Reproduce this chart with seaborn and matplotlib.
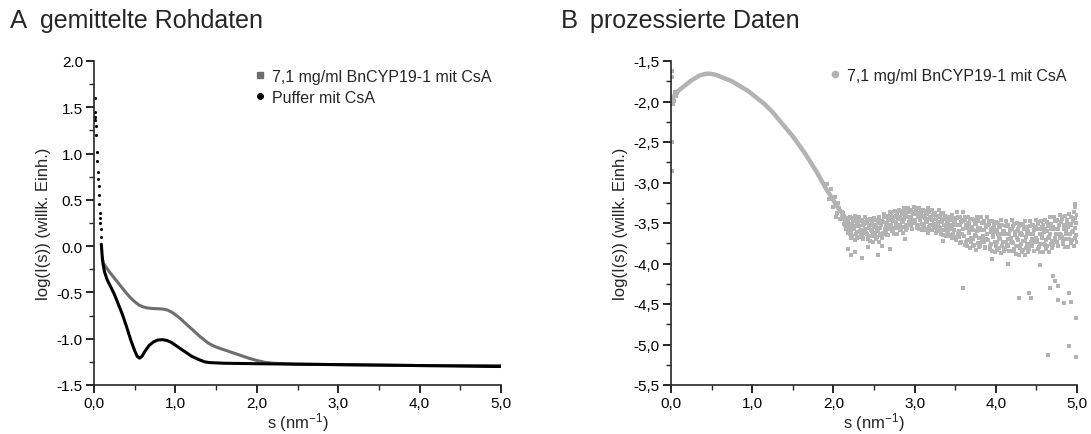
import numpy as np
import pandas as pd
import matplotlib
matplotlib.use("Agg")
import matplotlib.pyplot as plt
from matplotlib.lines import Line2D
from matplotlib.ticker import MultipleLocator, FuncFormatter
import seaborn as sns

# ---------------- data ----------------
# Panel A: sample curve (grey)
sample_s = [0.10, 0.12, 0.15, 0.20, 0.25, 0.30, 0.35, 0.40, 0.45, 0.50, 0.55, 0.60, 0.65,
            0.70, 0.75, 0.80, 0.85, 0.90, 0.95, 1.00, 1.05, 1.10, 1.15, 1.20, 1.25, 1.30,
            1.35, 1.40, 1.45, 1.50, 1.60, 1.70, 1.80, 1.90, 2.00, 2.10, 2.20, 2.50, 3.00,
            3.50, 4.00, 4.50, 5.00]
sample_y = [-0.14, -0.19, -0.23, -0.29, -0.345, -0.40, -0.455, -0.51, -0.56, -0.60, -0.635,
            -0.655, -0.667, -0.672, -0.675, -0.677, -0.68, -0.69, -0.71, -0.74, -0.775, -0.815,
            -0.855, -0.895, -0.935, -0.975, -1.01, -1.045, -1.07, -1.09, -1.12, -1.15, -1.18,
            -1.21, -1.235, -1.255, -1.265, -1.275, -1.28, -1.285, -1.29, -1.29, -1.29]

# Panel A: buffer curve (black)
buffer_s = [0.09, 0.10, 0.11, 0.13, 0.16, 0.20, 0.25, 0.30, 0.35, 0.40, 0.45, 0.50, 0.53,
            0.56, 0.59, 0.63, 0.68, 0.73, 0.78, 0.84, 0.90, 0.95, 1.00, 1.05, 1.10, 1.15,
            1.20, 1.25, 1.30, 1.36, 1.42, 1.60, 2.00, 3.00, 4.00, 4.90, 5.00]
buffer_y = [0.02, -0.10, -0.19, -0.28, -0.36, -0.43, -0.52, -0.63, -0.74, -0.87, -1.01, -1.13,
            -1.19, -1.21, -1.19, -1.13, -1.07, -1.035, -1.015, -1.01, -1.02, -1.04, -1.07, -1.10,
            -1.13, -1.16, -1.19, -1.21, -1.23, -1.25, -1.258, -1.265, -1.27, -1.28, -1.29,
            -1.30, -1.30]
# Panel A: separate buffer points at very small s
buffer_dots_s = [0.008, 0.012, 0.015, 0.018, 0.022, 0.028, 0.035, 0.040, 0.046, 0.052, 0.056,
                 0.060, 0.064, 0.068, 0.072, 0.076, 0.080, 0.084]
buffer_dots_y = [1.60, 1.45, 1.40, 1.36, 1.30, 1.20, 1.02, 0.92, 0.80, 0.72, 0.65,
                 0.55, 0.45, 0.36, 0.30, 0.25, 0.18, 0.10]

# Panel B: smooth part of processed curve
proc_s = [0.02, 0.05, 0.10, 0.15, 0.20, 0.25, 0.30, 0.35, 0.40, 0.45, 0.50, 0.55, 0.60, 0.65,
          0.70, 0.75, 0.80, 0.85, 0.90, 0.95, 1.00, 1.05, 1.10, 1.15, 1.20, 1.25, 1.30, 1.35,
          1.40, 1.45, 1.50, 1.55, 1.60, 1.65, 1.70, 1.75, 1.80, 1.85, 1.90, 1.95, 2.00, 2.05,
          2.10, 2.15]
proc_y = [-1.97, -1.91, -1.86, -1.82, -1.78, -1.74, -1.71, -1.68, -1.665, -1.655, -1.66, -1.67,
          -1.69, -1.71, -1.73, -1.75, -1.78, -1.81, -1.84, -1.87, -1.91, -1.95, -1.99, -2.03,
          -2.08, -2.13, -2.19, -2.25, -2.31, -2.37, -2.43, -2.50, -2.57, -2.64, -2.72, -2.80,
          -2.88, -2.97, -3.06, -3.14, -3.22, -3.30, -3.37, -3.44]

# Panel B: noisy part, first set at s = 2.100 ... 5.000 (step 0.01)
noise_y = [
    -3.36, -3.45, -3.38, -3.51, -3.47, -3.57, -3.48, -3.53, -3.48, -3.58,
    -3.64, -3.51, -3.68, -3.44, -3.58, -3.48, -3.71, -3.54, -3.46, -3.61,
    -3.51, -3.67, -3.42, -3.60, -3.46, -3.64, -3.53, -3.68, -3.49, -3.57,
    -3.50, -3.63, -3.46, -3.68, -3.56, -3.72, -3.52, -3.60, -3.48, -3.65,
    -3.66, -3.53, -3.70, -3.46, -3.60, -3.50, -3.73, -3.56, -3.48, -3.63,
    -3.48, -3.64, -3.39, -3.57, -3.43, -3.61, -3.50, -3.65, -3.46, -3.54,
    -3.41, -3.54, -3.37, -3.59, -3.47, -3.63, -3.43, -3.51, -3.39, -3.56,
    -3.55, -3.42, -3.59, -3.35, -3.49, -3.39, -3.62, -3.45, -3.37, -3.52,
    -3.40, -3.56, -3.31, -3.49, -3.35, -3.53, -3.42, -3.57, -3.38, -3.46,
    -3.36, -3.49, -3.32, -3.54, -3.42, -3.58, -3.38, -3.46, -3.34, -3.51,
    -3.55, -3.42, -3.59, -3.35, -3.49, -3.39, -3.62, -3.45, -3.37, -3.52,
    -3.43, -3.59, -3.34, -3.52, -3.38, -3.56, -3.45, -3.60, -3.41, -3.49,
    -3.43, -3.56, -3.39, -3.61, -3.49, -3.65, -3.45, -3.53, -3.41, -3.58,
    -3.62, -3.49, -3.66, -3.42, -3.56, -3.46, -3.69, -3.52, -3.44, -3.59,
    -3.49, -3.71, -3.36, -3.62, -3.42, -3.67, -3.52, -3.73, -3.46, -3.57,
    -3.48, -3.66, -3.42, -3.73, -3.56, -3.79, -3.51, -3.62, -3.45, -3.69,
    -3.74, -3.55, -3.79, -3.46, -3.65, -3.51, -3.83, -3.60, -3.48, -3.69,
    -3.56, -3.78, -3.43, -3.69, -3.49, -3.74, -3.59, -3.80, -3.53, -3.64,
    -3.53, -3.71, -3.47, -3.78, -3.61, -3.84, -3.56, -3.67, -3.50, -3.74,
    -3.78, -3.59, -3.83, -3.50, -3.69, -3.55, -3.87, -3.64, -3.52, -3.73,
    -3.60, -3.82, -3.47, -3.73, -3.53, -3.78, -3.63, -3.84, -3.57, -3.68,
    -3.57, -3.75, -3.51, -3.82, -3.65, -3.88, -3.60, -3.71, -3.54, -3.78,
    -3.81, -3.62, -3.86, -3.53, -3.72, -3.58, -3.90, -3.67, -3.55, -3.76,
    -3.60, -3.82, -3.47, -3.73, -3.53, -3.78, -3.63, -3.84, -3.57, -3.68,
    -3.55, -3.73, -3.49, -3.80, -3.63, -3.86, -3.58, -3.69, -3.52, -3.76,
    -3.77, -3.58, -3.82, -3.49, -3.68, -3.54, -3.86, -3.63, -3.51, -3.72,
    -3.55, -3.77, -3.42, -3.68, -3.48, -3.73, -3.58, -3.79, -3.52, -3.63,
    -3.49, -3.67, -3.43, -3.74, -3.57, -3.80, -3.52, -3.63, -3.46, -3.70,
    -3.70, -3.51, -3.75, -3.42, -3.61, -3.47, -3.79, -3.56, -3.44, -3.65, -3.40,
]
noise_s = [round(2.10 + 0.01 * i, 3) for i in range(len(noise_y))]

# Panel B: noisy part, second set at s = 2.105 ... 4.995 (step 0.01)
noise2_y = [
    -3.43, -3.38, -3.51, -3.44, -3.53, -3.44, -3.52, -3.49, -3.62, -3.53,
    -3.43, -3.61, -3.53, -3.66, -3.47, -3.58, -3.41, -3.64, -3.51, -3.68,
    -3.67, -3.54, -3.48, -3.64, -3.59, -3.46, -3.70, -3.51, -3.62, -3.42,
    -3.62, -3.48, -3.70, -3.53, -3.66, -3.45, -3.59, -3.51, -3.73, -3.55,
    -3.44, -3.62, -3.54, -3.67, -3.48, -3.59, -3.42, -3.65, -3.52, -3.69,
    -3.62, -3.49, -3.43, -3.59, -3.54, -3.41, -3.65, -3.46, -3.57, -3.37,
    -3.52, -3.38, -3.60, -3.43, -3.56, -3.35, -3.49, -3.41, -3.63, -3.45,
    -3.34, -3.52, -3.44, -3.57, -3.38, -3.49, -3.32, -3.55, -3.42, -3.59,
    -3.55, -3.42, -3.36, -3.52, -3.47, -3.34, -3.58, -3.39, -3.50, -3.30,
    -3.48, -3.34, -3.56, -3.39, -3.52, -3.31, -3.45, -3.37, -3.59, -3.41,
    -3.34, -3.52, -3.44, -3.57, -3.38, -3.49, -3.32, -3.55, -3.42, -3.59,
    -3.59, -3.46, -3.40, -3.56, -3.51, -3.38, -3.62, -3.43, -3.54, -3.34,
    -3.55, -3.41, -3.63, -3.46, -3.59, -3.38, -3.52, -3.44, -3.66, -3.48,
    -3.42, -3.60, -3.52, -3.65, -3.46, -3.57, -3.40, -3.63, -3.50, -3.67,
    -3.71, -3.53, -3.44, -3.67, -3.60, -3.42, -3.75, -3.49, -3.64, -3.36,
    -3.66, -3.46, -3.77, -3.53, -3.71, -3.42, -3.61, -3.50, -3.81, -3.56,
    -3.45, -3.70, -3.59, -3.77, -3.51, -3.66, -3.42, -3.75, -3.56, -3.80,
    -3.77, -3.59, -3.50, -3.73, -3.66, -3.48, -3.81, -3.55, -3.70, -3.42,
    -3.71, -3.51, -3.82, -3.58, -3.76, -3.47, -3.66, -3.55, -3.86, -3.61,
    -3.49, -3.74, -3.63, -3.81, -3.55, -3.70, -3.46, -3.79, -3.60, -3.84,
    -3.81, -3.63, -3.54, -3.77, -3.70, -3.52, -3.85, -3.59, -3.74, -3.46,
    -3.74, -3.54, -3.85, -3.61, -3.79, -3.50, -3.69, -3.58, -3.89, -3.64,
    -3.51, -3.76, -3.65, -3.83, -3.57, -3.72, -3.48, -3.81, -3.62, -3.86,
    -3.81, -3.63, -3.54, -3.77, -3.70, -3.52, -3.85, -3.59, -3.74, -3.46,
    -3.71, -3.51, -3.82, -3.58, -3.76, -3.47, -3.66, -3.55, -3.86, -3.61,
    -3.46, -3.71, -3.60, -3.78, -3.52, -3.67, -3.43, -3.76, -3.57, -3.81,
    -3.75, -3.57, -3.48, -3.71, -3.64, -3.46, -3.79, -3.53, -3.68, -3.40,
    -3.65, -3.45, -3.76, -3.52, -3.70, -3.41, -3.60, -3.49, -3.80, -3.55,
    -3.39, -3.64, -3.53, -3.71, -3.45, -3.60, -3.36, -3.69, -3.50, -3.74,
]
noise2_s = [round(2.105 + 0.01 * i, 3) for i in range(len(noise2_y))]

# Panel B: extra scattered points (start, transition, outliers)
extra_s = [0.01, 0.01, 0.02, 0.01, 0.01, 0.03, 0.04, 0.05, 0.06, 0.08,
           1.92, 1.95, 1.97, 2.00, 2.02, 2.04, 2.06, 2.08, 2.03, 2.07,
           2.18, 2.22, 2.27, 2.35, 2.42, 2.55, 2.70, 3.35, 2.60, 2.88,
           3.60, 4.28, 4.41, 4.43, 4.67, 4.77, 4.84, 4.90, 4.93, 4.99,
           4.64, 4.90, 4.99, 4.71, 4.73, 4.76, 3.95, 4.15, 4.55, 4.97, 4.98]
extra_y = [-1.62, -1.70, -2.03, -2.50, -2.86, -1.95, -1.99, -1.88, -1.93, -1.90,
           -3.02, -3.20, -3.08, -3.30, -3.18, -3.38, -3.25, -3.45, -3.42, -3.32,
           -3.82, -3.90, -3.86, -3.93, -3.80, -3.90, -3.82, -3.72, -3.78, -3.70,
           -4.30, -4.43, -4.36, -4.43, -4.30, -4.45, -4.49, -4.36, -4.47, -4.67,
           -5.13, -5.02, -5.15, -4.16, -4.22, -4.28, -3.95, -4.00, -4.02, -3.30, -3.26]

# text
title_a = "gemittelte Rohdaten"
title_b = "prozessierte Daten"
label_sample = "7,1 mg/ml BnCYP19-1 mit CsA"
label_buffer = "Puffer mit CsA"
xlabel = r"s (nm$^{-1}$)"
ylabel = "log(I(s)) (willk. Einh.)"

# ---------------- style ----------------
sns.set_theme(style="ticks")
plt.rcParams["font.family"] = ["Liberation Sans", "DejaVu Sans"]
plt.rcParams["mathtext.default"] = "regular"
plt.rcParams["axes.unicode_minus"] = False
plt.rcParams["axes.linewidth"] = 1.2

grey_a = "#6e6e6e"
grey_b = "#b3b3b3"

W, H = 1091, 435
fig = plt.figure(figsize=(W / 100, H / 100), dpi=100)
axA = fig.add_axes([94 / W, 1 - 386 / H, (501 - 94) / W, (386 - 62) / H])
axB = fig.add_axes([671 / W, 1 - 386 / H, (1077 - 671) / W, (386 - 62) / H])

dfA_sample = pd.DataFrame({"s": sample_s, "y": sample_y})
dfA_buffer = pd.DataFrame({"s": buffer_s, "y": buffer_y})
dfA_dots = pd.DataFrame({"s": buffer_dots_s, "y": buffer_dots_y})

sns.lineplot(data=dfA_sample, x="s", y="y", ax=axA, color=grey_a, lw=2.2,
             estimator=None, sort=False, legend=False)
sns.lineplot(data=dfA_buffer, x="s", y="y", ax=axA, color="black", lw=2.2,
             estimator=None, sort=False, legend=False)
sns.scatterplot(data=dfA_dots, x="s", y="y", ax=axA, color="black", s=5,
                linewidth=0, legend=False)

dfB_line = pd.DataFrame({"s": proc_s, "y": proc_y})
dfB_noise = pd.DataFrame({"s": noise_s + noise2_s, "y": noise_y + noise2_y})
dfB_extra = pd.DataFrame({"s": extra_s, "y": extra_y})
sns.lineplot(data=dfB_line, x="s", y="y", ax=axB, color=grey_b, lw=3.2,
             estimator=None, sort=False, legend=False)
sns.scatterplot(data=dfB_noise, x="s", y="y", ax=axB, color=grey_b, s=6,
                marker="s", linewidth=0, legend=False)
sns.scatterplot(data=dfB_extra, x="s", y="y", ax=axB, color=grey_b, s=5,
                marker="s", linewidth=0, legend=False)

fmt_dot = FuncFormatter(lambda v, p: f"{v:.1f}")
fmt_comma = FuncFormatter(lambda v, p: f"{v:.1f}".replace(".", ","))

for ax, ylim, yfmt in ((axA, (-1.5, 2.0), fmt_dot), (axB, (-5.5, -1.5), fmt_comma)):
    ax.set_xlim(0, 5)
    ax.set_ylim(*ylim)
    ax.xaxis.set_major_locator(MultipleLocator(1.0))
    ax.xaxis.set_minor_locator(MultipleLocator(0.5))
    ax.yaxis.set_major_locator(MultipleLocator(0.5))
    ax.yaxis.set_minor_locator(MultipleLocator(0.25))
    ax.xaxis.set_major_formatter(fmt_comma)
    ax.yaxis.set_major_formatter(yfmt)
    ax.tick_params(which="major", direction="out", length=6, width=1.2, labelsize=11,
                   pad=2, colors="black")
    ax.tick_params(which="minor", direction="out", length=3.5, width=1.0)
    sns.despine(ax=ax)
    ax.set_xlabel(xlabel, fontsize=12, labelpad=0)
    ax.set_ylabel(ylabel, fontsize=12, labelpad=4)
    ax.set_facecolor("white")

# legends
hA = [Line2D([], [], ls="none", marker="s", ms=4, color=grey_a, mec=grey_a),
      Line2D([], [], ls="none", marker="o", ms=4, color="black", mec="black")]
axA.legend(hA, [label_sample, label_buffer], loc="upper left",
           bbox_to_anchor=((254 - 94) / 407, 1 - (70 - 62) / 324), frameon=False,
           fontsize=11.5, handlelength=0.8, handletextpad=0.3, borderpad=0,
           borderaxespad=0, labelspacing=0.35)
hB = [Line2D([], [], ls="none", marker="o", ms=4.5, color=grey_b, mec=grey_b)]
axB.legend(hB, [label_sample], loc="upper left",
           bbox_to_anchor=((829 - 671) / 406, 1 - (69 - 62) / 324), frameon=False,
           fontsize=11.5, handlelength=0.8, handletextpad=0.3, borderpad=0,
           borderaxespad=0)

# panel titles
fig.text(10 / W, 1 - 28 / H, "A", fontsize=18.5, va="baseline", ha="left")
fig.text(40 / W, 1 - 28 / H, title_a, fontsize=18, va="baseline", ha="left")
fig.text(561 / W, 1 - 28 / H, "B", fontsize=18.5, va="baseline", ha="left")
fig.text(590 / W, 1 - 28 / H, title_b, fontsize=18, va="baseline", ha="left")

fig.savefig("out.png", dpi=100, facecolor="white")
